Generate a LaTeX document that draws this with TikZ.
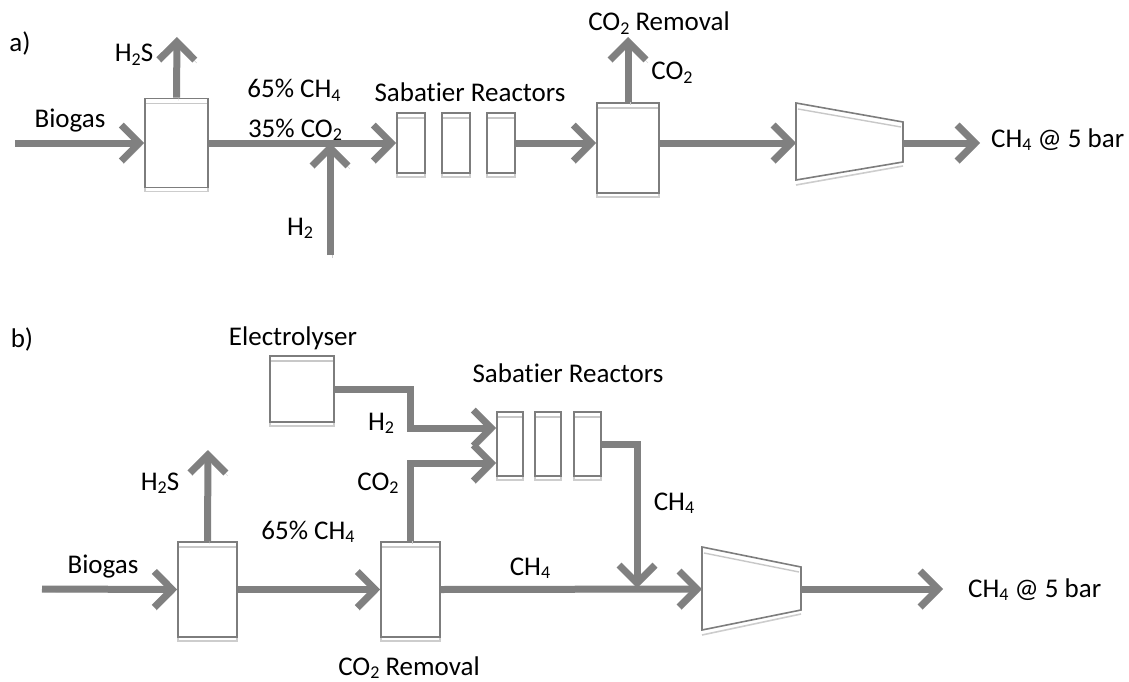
\documentclass[tikz,border=0pt]{standalone}
\usepackage{fontspec}
\setmainfont{Carlito}[Ligatures=NoCommon]
\usetikzlibrary{arrows.meta}
\definecolor{flowgray}{RGB}{128,128,128}
\definecolor{shadowgray}{RGB}{205,205,205}
\definecolor{boxgray}{RGB}{125,125,125}
\definecolor{innergray}{RGB}{200,200,200}
\newcommand\sbs[1]{\raisebox{-0.12em}{\fontsize{18}{18}\selectfont #1}}
\tikzset{
  flow/.style={line width=7pt, draw=flowgray, line join=miter,
    -{Straight Barb[length=18pt,width=36pt]},
    preaction={draw=shadowgray, transform canvas={shift={(2pt,-3pt)}}}},
  unitbox/.style={draw=boxgray, line width=1.6pt, fill=white, inner sep=0pt,
    preaction={draw=shadowgray, line width=1.6pt, transform canvas={shift={(0pt,-4pt)}}},
    path picture={\draw[innergray, line width=1.4pt]
      ([yshift=-5pt]path picture bounding box.north west) --
      ([yshift=-5pt]path picture bounding box.north east);}},
  comp/.style={draw=boxgray, line width=1.6pt, fill=white, line join=miter},
  compshadow/.style={draw=shadowgray, line width=1.6pt},
  lbl/.style={font=\fontsize{27}{32}\selectfont, inner sep=0pt, anchor=base, text=black}
}
\begin{document}
\begin{tikzpicture}[x=1pt,y=-1pt]
\useasboundingbox (0,0) rectangle (1129,682);

% ================= a) =================
\node[lbl] (la) at (20,52) {a)};

\node[unitbox, minimum width=63pt, minimum height=89pt] (box1a) at (176.5,143) {};
\node[unitbox, minimum width=28pt, minimum height=60pt] (sab1a) at (411,143) {};
\node[unitbox, minimum width=28pt, minimum height=60pt] (sab2a) at (456,143) {};
\node[unitbox, minimum width=28pt, minimum height=60pt] (sab3a) at (501,143) {};
\node[unitbox, minimum width=62pt, minimum height=90pt] (co2a) at (628,148) {};

% compressor a
\draw[compshadow] (796,185) -- (903,166);
\draw[comp] (796,103) -- (903,122) -- (903,162) -- (796,180) -- cycle;
\draw[innergray, line width=1.4pt] (798,109) -- (901,127);
\coordinate (compaW) at (796,143);
\coordinate (compaE) at (903,143);

\coordinate (bioina) at (15,143);
\coordinate (h2sa) at (177,37);
\coordinate (h2ina) at (330,255);
\coordinate (mixa) at (330,143);
\coordinate (co2outa) at (628,37);
\coordinate (prodouta) at (980,143);

\draw[flow] (bioina) -- (box1a.west);
\draw[flow] (box1a.north) -- (h2sa);
\draw[flow] (box1a.east) -- (sab1a.west);
\draw[flow] (h2ina) -- (mixa);
\draw[flow] (sab3a.east) -- (co2a.west |- sab3a.east);
\draw[flow] (co2a.north) -- (co2outa);
\draw[flow] (co2a.east |- compaW) -- (compaW);
\draw[flow] (compaE) -- (prodouta);

\node[lbl] (t1) at (70,128) {Biogas};
\node[lbl] (t2) at (134,62) {H\sbs{2}S};
\node[lbl] (t3) at (294,98) {65\% CH\sbs{4}};
\node[lbl] (t4) at (295,137) {35\% CO\sbs{2}};
\node[lbl] (t5) at (300,235) {H\sbs{2}};
\node[lbl] (t6) at (470,102) {Sabatier Reactors};
\node[lbl] (t7) at (659,31) {CO\sbs{2} Removal};
\node[lbl] (t8) at (672,80) {CO\sbs{2}};
\node[lbl, anchor=base west] (t9) at (991,147) {CH\sbs{4} @ 5 bar};

% ================= b) =================
\node[lbl] (lb) at (22,347) {b)};

\node[unitbox, minimum width=64pt, minimum height=66pt] (elec) at (302,389) {};
\node[unitbox, minimum width=26pt, minimum height=64pt] (sab1b) at (510,444) {};
\node[unitbox, minimum width=26pt, minimum height=64pt] (sab2b) at (548,444) {};
\node[unitbox, minimum width=27pt, minimum height=64pt] (sab3b) at (587.5,444) {};
\node[unitbox, minimum width=59pt, minimum height=95pt] (box1b) at (207.5,589.5) {};
\node[unitbox, minimum width=59pt, minimum height=95pt] (co2b) at (410.5,589.5) {};

% compressor b
\draw[compshadow] (702,635) -- (801,614);
\draw[comp] (702,547) -- (801,567) -- (801,610) -- (702,630) -- cycle;
\draw[innergray, line width=1.4pt] (704,553) -- (799,572);
\coordinate (compbW) at (702,589);
\coordinate (compbE) at (801,589);

\coordinate (h2in) at ([yshift=16pt]sab1b.west);
\coordinate (co2in) at ([yshift=-19pt]sab1b.west);
\coordinate (h2bend) at (410,428);
\coordinate (joinb) at (637,588);
\coordinate (bioinb) at (42,589);
\coordinate (h2sb) at (208,450);
\coordinate (prodoutb) at (943,589);

\draw[flow] (elec.east) -| (h2bend) -- (h2in);
\draw[flow] (co2b.north) |- (co2in);
\draw[flow] (sab3b.east) -| (joinb);
\draw[flow] (bioinb) -- (box1b.west);
\draw[flow] (box1b.north) -- (h2sb);
\draw[flow] (box1b.east) -- (co2b.west);
\draw[flow] (co2b.east) -- (compbW);
\draw[flow] (compbE) -- (prodoutb);

\node[lbl] (u1) at (293,345) {Electrolyser};
\node[lbl] (u2) at (381,430) {H\sbs{2}};
\node[lbl] (u3) at (568,382) {Sabatier Reactors};
\node[lbl] (u4) at (378,490) {CO\sbs{2}};
\node[lbl] (u5) at (160,490) {H\sbs{2}S};
\node[lbl] (u6) at (103,573) {Biogas};
\node[lbl] (u7) at (308,539) {65\% CH\sbs{4}};
\node[lbl] (u8) at (530,575) {CH\sbs{4}};
\node[lbl] (u9) at (674,510) {CH\sbs{4}};
\node[lbl] (u10) at (409,675) {CO\sbs{2} Removal};
\node[lbl, anchor=base west] (u11) at (968,597) {CH\sbs{4} @ 5 bar};
\end{tikzpicture}
\end{document}
